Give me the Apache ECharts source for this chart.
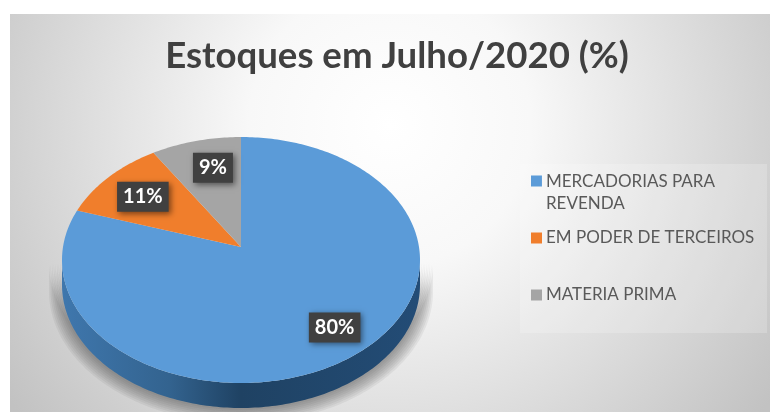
<!DOCTYPE html>
<html>
<head>
<meta charset="utf-8">
<title>Estoques em Julho/2020 (%)</title>
<script src="https://cdn.jsdelivr.net/npm/echarts@6/dist/echarts.min.js"></script>
<style>
  html, body { margin: 0; padding: 0; background: #fff; }
  #chart { width: 770px; height: 412px; }
</style>
</head>
<body>
<div id="chart"></div>
<script>
var categories = ["MERCADORIAS PARA REVENDA", "EM PODER DE TERCEIROS", "MATERIA PRIMA"];
var values = [80, 11, 9];
var colors = ["#5b9bd8", "#f07e2c", "#a5a5a5"];

var titleText = "Estoques em Julho/2020 (%)";
var fontName = "Lato, 'Open Sans', sans-serif";

// pie seen from above, the far edge is a bit smaller than the near edge
var disc = { cx: 241, cy: 247, a: 178, b: 121.6, k: 0.1057, depth: 25 };
// where each label sits inside its slice
var labelRadius = [0.79, 0.72, 0.72];
var labelTurn = [-2.5, -1, 2.6];

var total = values.reduce(function (s, v) { return s + v; }, 0);

function project(r, deg, drop) {
  var t = deg * Math.PI / 180;
  var u = r * Math.sin(t), v = r * Math.cos(t);
  var w = 1 + disc.k * v;
  return [disc.cx + disc.a * u / w, disc.cy - disc.b * v / w + (drop || 0)];
}

function arc(from, to, drop, r) {
  var pts = [];
  var n = Math.max(2, Math.ceil(Math.abs(to - from)));
  for (var i = 0; i <= n; i++) {
    pts.push(project(r || 1, from + (to - from) * i / n, drop));
  }
  return pts;
}

function sliceItem(index) {
  return function (params, api) {
    var start = 0;
    for (var i = 0; i < index; i++) start += values[i];
    var from = start / total * 360;
    var to = (start + api.value(0)) / total * 360;
    var mid = (from + to) / 2 + labelTurn[index];
    var spot = project(labelRadius[index], mid);
    var children = [];

    // side wall, only the near part of the rim can be seen
    var wallFrom = Math.max(from, 96), wallTo = Math.min(to, 264);
    if (wallTo > wallFrom) {
      // soft grey halo under the pie, stacked from wide to narrow
      for (var s = 8; s >= 1; s--) {
        children.push({
          type: "polygon",
          shape: { points: arc(wallFrom, wallTo, 0, 1 + s * 0.009).concat(arc(wallTo, wallFrom, disc.depth + s * 0.5, 1 + s * 0.009)) },
          style: { fill: "rgba(70,70,70,0.075)" }
        });
      }
      children.push({
        type: "polygon",
        z2: 1,
        shape: { points: arc(wallFrom, wallTo, 0).concat(arc(wallTo, wallFrom, disc.depth)) },
        style: {
          fill: new echarts.graphic.LinearGradient(0, 0, 1, 0, [
            { offset: 0, color: "#3f77ad" },
            { offset: 0.3, color: "#33638f" },
            { offset: 0.5, color: "#1f4263" },
            { offset: 1, color: "#234c76" }
          ])
        }
      });
    }

    children.push({
      type: "polygon",
      z2: 2,
      shape: { points: [[disc.cx, disc.cy]].concat(arc(from, to, 0)) },
      style: { fill: api.visual("color") }
    });

    children.push({
      type: "text",
      z2: 5,
      x: spot[0],
      y: spot[1],
      style: {
        text: api.value(0) + "%",
        font: "bold 20px " + fontName,
        fill: "#fff",
        align: "center",
        verticalAlign: "middle",
        backgroundColor: "#404040",
        padding: [5, 6, 5, 6],
        shadowColor: "rgba(0,0,0,0.5)",
        shadowBlur: 6,
        shadowOffsetX: 2,
        shadowOffsetY: 2
      }
    });

    return { type: "group", children: children };
  };
}

var chart = echarts.init(document.getElementById("chart"));

var legendTops = [171, 227, 284];
var squareIcon = "path://M0 0H10V10H0ZM0 32H0.01V32.01H0Z";

var option = {
  animation: false,
  backgroundColor: "#fff",
  title: {
    text: titleText,
    left: 392,
    top: 33,
    textAlign: "center",
    textStyle: { fontFamily: fontName, fontSize: 36.6, fontWeight: "bold", color: "#404040" }
  },
  graphic: [
    {
      type: "rect",
      silent: true,
      z: -10,
      shape: { x: 10, y: 14, width: 760, height: 398 },
      style: {
        fill: new echarts.graphic.RadialGradient(0.5, 0.28, 1.18, [
          { offset: 0, color: "#ffffff" },
          { offset: 0.3, color: "#f8f8f8" },
          { offset: 1, color: "#c2c2c2" }
        ])
      }
    },
    {
      type: "rect",
      silent: true,
      z: -9,
      shape: { x: 520, y: 164, width: 247, height: 169 },
      style: { fill: "rgba(255,255,255,0.2)" }
    }
  ],
  legend: categories.map(function (name, i) {
    return {
      data: [name],
      left: 531,
      top: legendTops[i],
      padding: 0,
      selectedMode: false,
      itemWidth: 11,
      itemHeight: i == 0 ? 35 : 11,
      itemGap: 0,
      icon: i == 0 ? squareIcon : "rect",
      formatter: function (n) {
        return n == categories[0] ? "MERCADORIAS PARA\nREVENDA" : n;
      },
      textStyle: {
        fontFamily: fontName,
        fontSize: 17,
        lineHeight: 22,
        color: "#595959",
        padding: [0, 0, 0, -1]
      }
    };
  }),
  series: categories.map(function (name, i) {
    return {
      type: "custom",
      name: name,
      coordinateSystem: "none",
      clip: false,
      silent: true,
      itemStyle: { color: colors[i] },
      z: i == 0 ? 2 : 3,
      data: [values[i]],
      renderItem: sliceItem(i)
    };
  })
};

chart.setOption(option);
</script>
</body>
</html>
